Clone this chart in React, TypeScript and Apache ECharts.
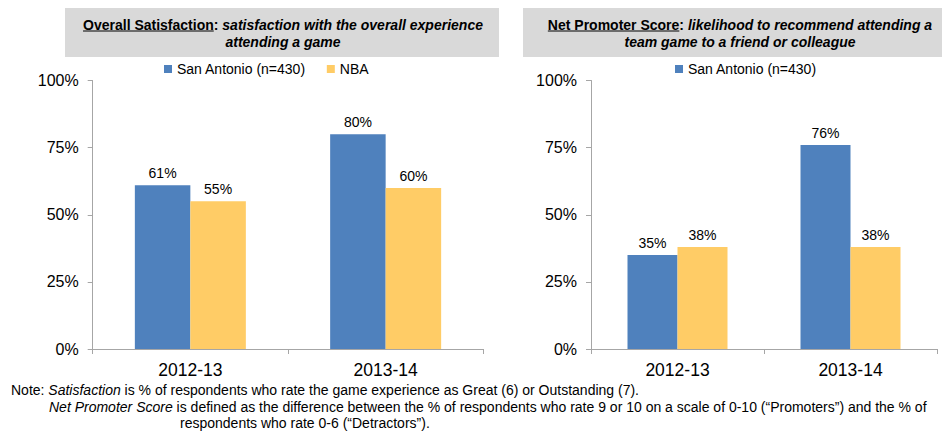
import React, { useEffect, useRef } from 'react';
import * as echarts from 'echarts';

const categories = ['2012-13', '2013-14'];
const seriesNames = ['San Antonio (n=430)', 'NBA'];
const satSanAntonio = [61, 80];
const satNBA = [55, 60];
const npsSanAntonio = [35, 76];
const npsNBA = [38, 38];
const yMin = 0;
const yMax = 100;
const yStep = 25;

const FONT = '"Liberation Sans", Arial, Helvetica, sans-serif';
const BLUE = '#4F81BD';
const YELLOW = '#FFCC66';
const AXIS = '#A6A6A6';
const TXT = '#000000';

type Part = { t: string; italic?: boolean; underline?: boolean };

function measure(text: string, font: string): number {
  const ctx = document.createElement('canvas').getContext('2d')!;
  ctx.font = font;
  return ctx.measureText(text).width;
}

function titleLine(parts: Part[], cx: number, y: number, size: number): any[] {
  const fonts = parts.map((p) => `${p.italic ? 'italic ' : ''}bold ${size}px ${FONT}`);
  const widths = parts.map((p, i) => measure(p.t, fonts[i]));
  const total = widths.reduce((a, b) => a + b, 0);
  let x = cx - total / 2;
  const els: any[] = [];
  parts.forEach((p, i) => {
    els.push({
      type: 'text',
      x,
      y,
      style: {
        text: p.t,
        font: fonts[i],
        fill: TXT,
        align: 'left',
        verticalAlign: 'middle',
      },
    });
    if (p.underline) {
      els.push({
        type: 'line',
        shape: { x1: x, y1: y + 6, x2: x + widths[i], y2: y + 6 },
        style: { stroke: TXT, lineWidth: 1 },
      });
    }
    x += widths[i];
  });
  return els;
}

function barSeries(name: string, data: number[], color: string, gi: number, width: number) {
  return {
    type: 'bar',
    name,
    data,
    xAxisIndex: gi,
    yAxisIndex: gi,
    barWidth: width,
    barGap: '0%',
    itemStyle: { color },
    label: {
      show: true,
      position: 'top',
      distance: 5,
      formatter: '{c}%',
      fontFamily: FONT,
      fontSize: 14,
      color: TXT,
    },
  };
}

export default function App() {
  const ref = useRef<HTMLDivElement>(null);
  useEffect(() => {
    document.body.style.margin = '0';
    const chart = echarts.init(ref.current!, null, { renderer: 'svg' });
    const grids = [
      { left: 92.7, top: 80.5, width: 390.6, height: 268.5 },
      { left: 591, top: 80.5, width: 346, height: 268.5 },
    ];
    const xAxes = grids.map((_, i) => ({
      type: 'category',
      gridIndex: i,
      data: categories,
      axisLine: { lineStyle: { color: AXIS, width: 1 } },
      axisTick: { show: true, length: 5, lineStyle: { color: AXIS } },
      axisLabel: { fontFamily: FONT, fontSize: 17.5, color: TXT, margin: 12 },
    }));
    const yAxes = grids.map((_, i) => ({
      type: 'value',
      gridIndex: i,
      min: yMin,
      max: yMax,
      interval: yStep,
      axisLine: { show: true, lineStyle: { color: AXIS, width: 1 } },
      axisTick: { show: true, length: 5, lineStyle: { color: AXIS } },
      splitLine: { show: false },
      axisLabel: { fontFamily: FONT, fontSize: 16, color: TXT, margin: 14, formatter: '{value}%' },
    }));

    const titleSize = 14;
    const noteSize = 14;
    const graphics: any[] = [
      { type: 'rect', shape: { x: 65, y: 8, width: 434, height: 49 }, style: { fill: '#D9D9D9' } },
      { type: 'rect', shape: { x: 523, y: 8, width: 440, height: 49 }, style: { fill: '#D9D9D9' } },
      ...titleLine(
        [
          { t: 'Overall Satisfaction', underline: true },
          { t: ': ' },
          { t: 'satisfaction with the overall experience', italic: true },
        ],
        283,
        25,
        titleSize
      ),
      ...titleLine([{ t: 'attending a game', italic: true }], 283, 41.5, titleSize),
      ...titleLine(
        [
          { t: 'Net Promoter Score', underline: true },
          { t: ': ' },
          { t: 'likelihood to recommend attending a', italic: true },
        ],
        740,
        25,
        titleSize
      ),
      ...titleLine([{ t: 'team game to a friend or colleague', italic: true }], 740, 41.5, titleSize),
      {
        type: 'text',
        x: 11,
        y: 389.5,
        style: {
          text: 'Note: {i|Satisfaction} is % of respondents who rate the game experience as Great (6) or Outstanding (7).',
          font: `${noteSize}px ${FONT}`,
          fill: TXT,
          verticalAlign: 'middle',
          rich: { i: { fontStyle: 'italic', fontSize: noteSize, fontFamily: FONT } },
        },
      },
      {
        type: 'text',
        x: 49,
        y: 406.5,
        style: {
          text: '{i|Net Promoter Score} is defined as the difference between the % of respondents who rate 9 or 10 on a scale of 0-10 (\u201CPromoters\u201D) and the % of',
          font: `${noteSize}px ${FONT}`,
          fill: TXT,
          verticalAlign: 'middle',
          rich: { i: { fontStyle: 'italic', fontSize: noteSize, fontFamily: FONT } },
        },
      },
      {
        type: 'text',
        x: 180,
        y: 423,
        style: {
          text: 'respondents who rate 0-6 (\u201CDetractors\u201D).',
          font: `${noteSize}px ${FONT}`,
          fill: TXT,
          verticalAlign: 'middle',
        },
      },
    ];

    const legendCommon = {
      top: 57,
      icon: 'rect',
      itemWidth: 8,
      itemHeight: 8,
      itemGap: 21,
      textStyle: { fontFamily: FONT, fontSize: 14, color: TXT },
    };

    chart.setOption({
      animation: false,
      grid: grids,
      xAxis: xAxes,
      yAxis: yAxes,
      legend: [
        { ...legendCommon, left: 159, data: seriesNames },
        { ...legendCommon, left: 670, data: [seriesNames[0]] },
      ],
      series: [
        barSeries(seriesNames[0], satSanAntonio, BLUE, 0, 55.5),
        barSeries(seriesNames[1], satNBA, YELLOW, 0, 55.5),
        barSeries(seriesNames[0], npsSanAntonio, BLUE, 1, 50),
        barSeries(seriesNames[1], npsNBA, YELLOW, 1, 50),
      ],
      graphic: graphics,
    });
    return () => chart.dispose();
  }, []);
  return <div ref={ref} style={{ position: 'absolute', left: 0, top: 0, width: 942, height: 431 }} />;
}
